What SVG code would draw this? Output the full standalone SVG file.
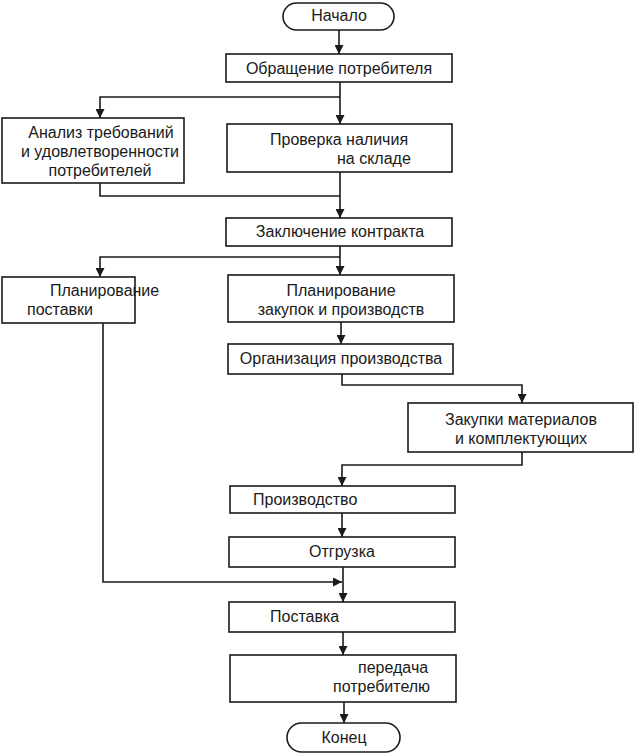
<svg xmlns="http://www.w3.org/2000/svg" width="635" height="754" viewBox="0 0 635 754">
<defs>
<style>
.b{fill:#fff;stroke:#1a1a1a;stroke-width:1.6}
.t{font-family:"Liberation Sans",Arial,sans-serif;font-size:16px;fill:#1a1a1a}
.c{fill:none;stroke:#1a1a1a;stroke-width:1.6}
</style>
<marker id="ar" viewBox="0 0 10 10" refX="10" refY="5" markerWidth="9" markerHeight="9" markerUnits="userSpaceOnUse" orient="auto">
<path d="M0,0 L10,5 L0,10 z" fill="#1a1a1a"/>
</marker>
</defs>
<rect width="635" height="754" fill="#fff"/>
<g id="connectors">
<path class="c" d="M339,30 V54" marker-end="url(#ar)"/>
<path class="c" d="M340,82 V124" marker-end="url(#ar)"/>
<path class="c" d="M340,97 H100 V118" marker-end="url(#ar)"/>
<path class="c" d="M100,183 V196 H340"/>
<path class="c" d="M340,172 V218" marker-end="url(#ar)"/>
<path class="c" d="M340,246 V275" marker-end="url(#ar)"/>
<path class="c" d="M340,257 H100 V277" marker-end="url(#ar)"/>
<path class="c" d="M341,322 V344" marker-end="url(#ar)"/>
<path class="c" d="M342,374 V385 H522 V403" marker-end="url(#ar)"/>
<path class="c" d="M522,452 V465 H342 V486" marker-end="url(#ar)"/>
<path class="c" d="M342,513 V537" marker-end="url(#ar)"/>
<path class="c" d="M343,567 V602" marker-end="url(#ar)"/>
<path class="c" d="M103,323 V582 H342" marker-end="url(#ar)"/>
<path class="c" d="M343,632 V655" marker-end="url(#ar)"/>
<path class="c" d="M344,702 V723" marker-end="url(#ar)"/>
</g>
<g id="start">
<rect class="b" x="283" y="3" width="111" height="27" rx="13.5"/>
<text class="t" x="339" y="21" text-anchor="middle">Начало</text>
</g>
<g id="request">
<rect class="b" x="226" y="54" width="226" height="28"/>
<text class="t" x="339" y="74" text-anchor="middle">Обращение потребителя</text>
</g>
<g id="analysis">
<rect class="b" x="2" y="118" width="182" height="65"/>
<text class="t" x="101" y="138" text-anchor="middle">Анализ требований</text>
<text class="t" x="100" y="157" text-anchor="middle">и удовлетворенности</text>
<text class="t" x="100" y="176" text-anchor="middle">потребителей</text>
</g>
<g id="check">
<rect class="b" x="227" y="124" width="225" height="48"/>
<text class="t" x="270" y="145">Проверка наличия</text>
<text class="t" x="337" y="164">на складе</text>
</g>
<g id="contract">
<rect class="b" x="226" y="218" width="226" height="28"/>
<text class="t" x="340" y="237" text-anchor="middle">Заключение контракта</text>
</g>
<g id="plan-delivery">
<rect class="b" x="2" y="277" width="133" height="46"/>
<text class="t" x="50" y="296">Планирование</text>
<text class="t" x="27" y="315">поставки</text>
</g>
<g id="plan-purchase">
<rect class="b" x="228" y="275" width="226" height="47"/>
<text class="t" x="341" y="296" text-anchor="middle">Планирование</text>
<text class="t" x="341" y="315" text-anchor="middle">закупок и производств</text>
</g>
<g id="organization">
<rect class="b" x="228" y="344" width="225" height="30"/>
<text class="t" x="341" y="364" text-anchor="middle">Организация производства</text>
</g>
<g id="purchase">
<rect class="b" x="408" y="403" width="225" height="49"/>
<text class="t" x="521" y="425" text-anchor="middle">Закупки материалов</text>
<text class="t" x="521" y="444" text-anchor="middle">и комплектующих</text>
</g>
<g id="production">
<rect class="b" x="230" y="486" width="225" height="27"/>
<text class="t" x="253" y="505">Производство</text>
</g>
<g id="shipment">
<rect class="b" x="229" y="537" width="226" height="30"/>
<text class="t" x="342" y="557" text-anchor="middle">Отгрузка</text>
</g>
<g id="delivery">
<rect class="b" x="229" y="602" width="226" height="30"/>
<text class="t" x="270" y="622">Поставка</text>
</g>
<g id="handover">
<rect class="b" x="230" y="655" width="226" height="47"/>
<text class="t" x="358" y="673">передача</text>
<text class="t" x="333" y="692">потребителю</text>
</g>
<g id="end">
<rect class="b" x="287" y="723" width="113" height="29" rx="14.5"/>
<text class="t" x="344" y="743" text-anchor="middle">Конец</text>
</g>
</svg>
